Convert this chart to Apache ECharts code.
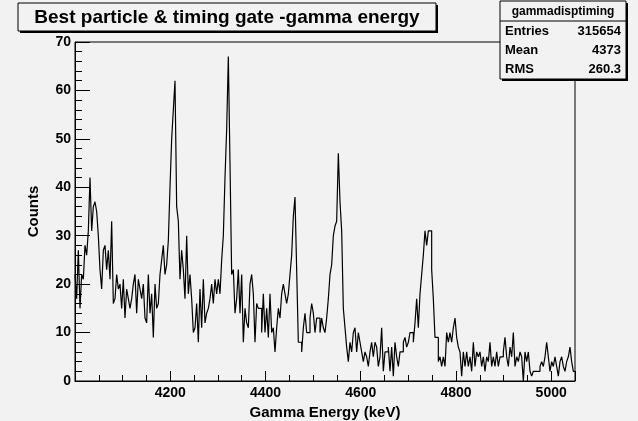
<!DOCTYPE html>
<html>
<head>
<meta charset="utf-8">
<script src="https://cdn.jsdelivr.net/npm/echarts@6/dist/echarts.min.js"></script>
<style>
html,body{margin:0;padding:0;background:#f2f2f2;}
#c{width:638px;height:421px;}
</style>
</head>
<body>
<div id="c"></div>
<script>
const binLow = 4000;
const binWidth = 3.5;
const counts = [
22,17,27,15,22,21,28,26,31,42, 31,36,37,35,30,23,19,27,28,23,
27,21,33,16,17,22,19,20,15,21, 13,19,17,15,17,20,22,14,21,19,
17,20,13,12,22,14,18,9,20,15,
16,22,25,28,22,24,29,40,50,56, 62,36,33,21,27,23,17,30,18,22,
17,10,11,16,8,19,11,21,12,14, 15,17,20,16,21,18,21,18,25,30,
42,52,67,45,22,23,14,17,23,14,
22,8,15,12,11,20,22,18,8,16, 15,15,10,18,10,15,9,18,10,11,
6,11,15,13,18,20,18,16,18,22, 26,34,38,23,8,8,6,11,14,10,
10,13,16,14,10,13,13,10,13,11,
10,13,17,22,24,30,32,33,47,37, 31,15,11,7,4,8,6,10,11,6,
10,8,6,4,6,5,3,6,8,5, 8,7,3,5,11,2,6,6,7,2,
7,1,8,5,3,6,6,8,9,7,
8,10,10,8,12,17,11,18,22,26, 31,28,31,31,23,17,9,9,4,5,
3,5,3,10,8,10,8,11,13,9, 7,6,1,6,3,6,3,5,2,8,
3,6,5,6,3,5,2,5,4,8,
3,5,3,6,3,5,5,6,9,5, 3,7,5,10,3,5,4,6,5,0,
6,4,6,2,1,2,2,2,2,3, 4,3,5,8,5,2,4,3,5,3,
1,4,5,3,2,4,5,7,4,2
];
const xLabels = [4200, 4400, 4600, 4800, 5000];
const yLabels = [0, 10, 20, 30, 40, 50, 60, 70];
const titleText = 'Best particle & timing gate -gamma energy';
const statTitle = 'gammadisptiming';
const statNames = ['Entries', 'Mean', 'RMS'];
const statValues = ['315654', '4373', '260.3'];

const xMin = binLow;
const xMax = binLow + counts.length * binWidth;
const stepData = counts.map((c, i) => [binLow + i * binWidth, c]);
stepData.push([xMax, counts[counts.length - 1]]);

const FONT = '"Liberation Sans", Arial, Helvetica, sans-serif';
const BG = '#f2f2f2';
const chart = echarts.init(document.getElementById('c'), null, {renderer: 'canvas'});

const statX = 500, statY = 1, statW = 126, statHeadH = 20, statRowH = 19;
const statH = statHeadH + statRowH * 3 + 1;
const statChildren = [
  {type:'rect', shape:{x:statX+2, y:statY+2, width:statW, height:statH}, style:{fill:'#000'}},
  {type:'rect', shape:{x:statX, y:statY, width:statW, height:statH}, style:{fill:BG, stroke:'#000', lineWidth:1}},
  {type:'line', shape:{x1:statX, y1:statY+statHeadH, x2:statX+statW, y2:statY+statHeadH}, style:{stroke:'#000', lineWidth:1}},
  {type:'text', x:statX+statW/2, y:statY+statHeadH/2+0.5, style:{text:statTitle, font:'bold 12px '+FONT, fill:'#000', align:'center', verticalAlign:'middle'}}
];
statNames.forEach((n, i) => {
  const cy = statY + statHeadH + statRowH * i + statRowH / 2 + 0.5;
  statChildren.push({type:'text', x:statX+5, y:cy, style:{text:n, font:'bold 13px '+FONT, fill:'#000', align:'left', verticalAlign:'middle'}});
  statChildren.push({type:'text', x:statX+statW-5, y:cy, style:{text:statValues[i], font:'bold 13px '+FONT, fill:'#000', align:'right', verticalAlign:'middle'}});
});

chart.setOption({
  backgroundColor: BG,
  animation: false,
  grid: {left: 75, top: 42, width: 500, height: 339, show: true, borderColor: '#000', borderWidth: 1,
         backgroundColor: 'transparent', containLabel: false, outerBoundsMode: 'none'},
  xAxis: {
    type: 'value', min: xMin, max: xMax, interval: 200,
    axisLine: {lineStyle: {color: '#000', width: 1}},
    axisTick: {inside: true, length: 10, lineStyle: {color: '#000'}},
    minorTick: {show: true, splitNumber: 4, length: 6, lineStyle: {color: '#000'}},
    splitLine: {show: false},
    axisLabel: {
      color: '#000', fontFamily: FONT, fontWeight: 'bold', fontSize: 14, margin: 5,
      showMinLabel: false, showMaxLabel: false,
      formatter: v => (xLabels.indexOf(v) >= 0 ? String(v) : '')
    },
    name: 'Gamma Energy (keV)', nameLocation: 'middle', nameGap: 22,
    nameTextStyle: {color: '#000', fontFamily: FONT, fontWeight: 'bold', fontSize: 15}
  },
  yAxis: {
    type: 'value', min: 0, max: 70, interval: 10,
    axisLine: {show: true, lineStyle: {color: '#000', width: 1}},
    axisTick: {show: true, inside: true, length: 15, lineStyle: {color: '#000'}},
    minorTick: {show: true, splitNumber: 5, length: 7, lineStyle: {color: '#000'}},
    splitLine: {show: false},
    axisLabel: {
      color: '#000', fontFamily: FONT, fontWeight: 'bold', fontSize: 14, margin: 4,
      formatter: v => (yLabels.indexOf(v) >= 0 ? String(v) : '')
    },
    name: 'Counts', nameLocation: 'middle', nameGap: 34, nameRotate: 90,
    nameTextStyle: {color: '#000', fontFamily: FONT, fontWeight: 'bold', fontSize: 15}
  },
  series: [{
    type: 'line', step: 'end', data: stepData, showSymbol: false, symbol: 'none',
    lineStyle: {color: '#000', width: 1.2}, clip: true
  }],
  graphic: [
    {type:'rect', shape:{x:20, y:5, width:418, height:28}, style:{fill:'#000'}},
    {type:'rect', shape:{x:18, y:3, width:418, height:28}, style:{fill:BG, stroke:'#000', lineWidth:1}},
    {type:'text', x:227, y:18, style:{text:titleText, font:'bold 19px '+FONT, fill:'#000', align:'center', verticalAlign:'middle'}},
    {type:'group', children: statChildren}
  ]
});
</script>
</body>
</html>
